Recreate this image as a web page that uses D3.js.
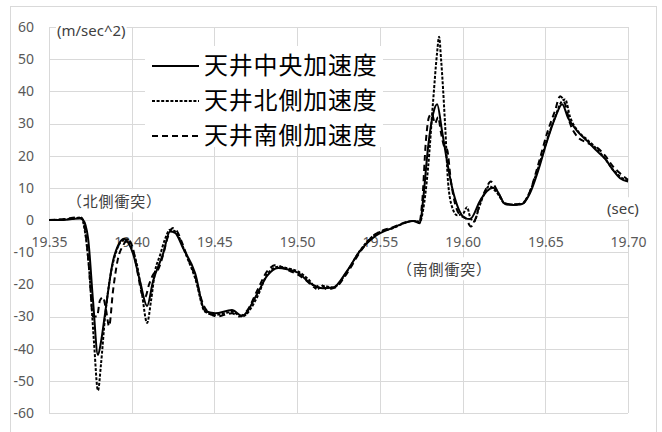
<!DOCTYPE html>
<html>
<head>
<meta charset="utf-8">
<script src="https://cdn.jsdelivr.net/npm/d3@7"></script>
<style>
  body { margin: 0; background: #fff; }
  svg { display: block; }
</style>
</head>
<body>
<div id="chart"></div>
<script>
// x ticks / y ticks
const xTicks = [19.35, 19.40, 19.45, 19.50, 19.55, 19.60, 19.65, 19.70];
const yTicks = [-60, -50, -40, -30, -20, -10, 0, 10, 20, 30, 40, 50, 60];

const legendLabels = ['天井中央加速度', '天井北側加速度', '天井南側加速度'];

// 天井中央加速度 (solid)
const centerT = [19.35, 19.3567, 19.3639, 19.3687, 19.3706, 19.3736, 19.3766, 19.3796, 19.3814, 19.3839,
  19.3887, 19.3917, 19.3953, 19.3978, 19.4008, 19.4050, 19.4093, 19.4129, 19.4189, 19.4232,
  19.4262, 19.4310, 19.4383, 19.4443, 19.4504, 19.4606, 19.4667, 19.4758, 19.4818, 19.4885,
  19.4939, 19.5005, 19.5078, 19.5157, 19.5217, 19.5302, 19.5380, 19.5459, 19.5580, 19.5701,
  19.5743, 19.5761, 19.5791, 19.5822, 19.5846, 19.5876, 19.5906, 19.5937, 19.5973, 19.6015,
  19.6045, 19.6106, 19.6148, 19.6184, 19.6209, 19.6257, 19.6305, 19.6360, 19.6408, 19.6456,
  19.6511, 19.6559, 19.6602, 19.6638, 19.6692, 19.6753, 19.6813, 19.6862, 19.6904, 19.6952, 19.7000];
const centerV = [0, 0, 0.3, 0.5, 0, -5.6, -25, -42, -38, -29,
  -12.7, -8, -5.8, -7, -10.5, -19, -26.7, -19, -10.6, -3.6,
  -4, -8.7, -16.5, -28.3, -29, -28, -29.8, -23, -17.4, -14.9,
  -15.3, -16.4, -19.6, -21.2, -21, -15.8, -9.6, -5.5, -2.4, -0.3,
  -1, 6, 22.4, 33, 36, 27.6, 18.3, 10, 3.8, 0.6,
  0.3, 6, 9, 10, 9, 5, 4.7, 5, 8.4, 15.2,
  24.6, 31.7, 36, 31.7, 27.7, 24.6, 21.4, 19, 15.9, 13, 12];

// 天井北側加速度 (dotted)
const northT = [19.35, 19.36, 19.365, 19.3695, 19.3712, 19.3742, 19.3772, 19.3796, 19.3814, 19.3839,
  19.3869, 19.3905, 19.3941, 19.3972, 19.4002, 19.4032, 19.4062, 19.4093, 19.4117, 19.4141,
  19.4171, 19.4201, 19.4232, 19.4262, 19.4292, 19.4322, 19.4383, 19.4443, 19.4504, 19.4564,
  19.4606, 19.4667, 19.4758, 19.4818, 19.4885, 19.4939, 19.5005, 19.5078, 19.5120, 19.5157,
  19.5217, 19.5302, 19.5380, 19.5459, 19.5580, 19.5701, 19.5743, 19.5761, 19.5791, 19.5822,
  19.5846, 19.5858, 19.5870, 19.5894, 19.5912, 19.5937, 19.5967, 19.6003, 19.6027, 19.6045,
  19.6070, 19.6100, 19.6130, 19.6160, 19.6190, 19.6215, 19.6257, 19.6305, 19.6360, 19.6408,
  19.6456, 19.6511, 19.6559, 19.6602, 19.6620, 19.6650, 19.6692, 19.6753, 19.6813, 19.6862,
  19.6904, 19.6952, 19.7000];
const northV = [0, 0.2, 0.5, 0.8, -2, -15, -38, -53, -45, -30,
  -18, -10, -6.5, -6, -9, -14, -23, -32, -25, -16,
  -11, -6, -3, -3.5, -6, -10, -18, -28.5, -29.5, -29,
  -28.5, -30, -24, -17, -14.5, -15, -16, -19, -21.5, -20.5,
  -21, -16, -9.5, -5, -2.5, -0.3, -0.5, 3, 16, 37,
  52, 57, 50, 30, 12, 4, 1.5, 2, 4, 1,
  -0.5, 4, 8, 10.5, 9.5, 8, 5, 4.8, 5, 9,
  16, 25, 32, 37, 37.5, 32, 28, 25, 22, 19,
  16, 13.5, 12];

// 天井南側加速度 (dashed)
const southT = [19.35, 19.36, 19.366, 19.370, 19.3718, 19.3742, 19.3766, 19.3790, 19.3808, 19.3826,
  19.3845, 19.3863, 19.3887, 19.3917, 19.3947, 19.3978, 19.4008, 19.4038, 19.4062, 19.4081,
  19.4105, 19.4129, 19.4159, 19.4189, 19.4220, 19.4250, 19.4274, 19.4304, 19.4340, 19.4383,
  19.4430, 19.4470, 19.4520, 19.4560, 19.4606, 19.4650, 19.4700, 19.4758, 19.4818, 19.4870,
  19.4939, 19.5005, 19.5060, 19.5110, 19.5140, 19.5180, 19.5230, 19.5302, 19.5380, 19.5459,
  19.5580, 19.5701, 19.5740, 19.5755, 19.5779, 19.5797, 19.5815, 19.5833, 19.5852, 19.5870,
  19.5888, 19.5906, 19.5930, 19.5955, 19.5985, 19.6020, 19.6050, 19.6075, 19.6110, 19.6140,
  19.6170, 19.6195, 19.6220, 19.6257, 19.6305, 19.6360, 19.6408, 19.6456, 19.6511, 19.6559,
  19.6590, 19.6620, 19.6650, 19.6692, 19.6753, 19.6813, 19.6862, 19.6904, 19.6952, 19.7000];
const southV = [0, 0.3, 0.8, 0.5, -3, -15, -30, -30, -25, -24,
  -28, -33, -22, -12, -8, -6, -9, -17, -23, -24,
  -20, -17, -15.5, -11, -5, -2.5, -3.5, -7, -12, -17.5,
  -26, -29, -30, -29.5, -29, -30, -28, -22, -16, -14,
  -15.5, -17, -19, -21, -20, -21.5, -21, -16.5, -10, -5,
  -2.2, -0.3, -0.5, 5, 25, 32, 33, 30, 32, 27,
  23, 22, 12, 5, 1.5, 0.5, -2, 0, 6, 9.5,
  12, 10.5, 8, 5.2, 4.8, 5.2, 9, 17, 27, 34,
  38.5, 36, 30, 26, 24, 22.5, 20, 17, 14.5, 12.5];

const W = 662, H = 432;
const axisFont = '"Noto Sans", "Open Sans", sans-serif';
const cjkFont = '"Noto Sans CJK JP", "Noto Sans", sans-serif';

const svg = d3.select('#chart').append('svg')
  .attr('width', W)
  .attr('height', H);

// chart area border
svg.append('rect')
  .attr('x', 10.5).attr('y', 6.5)
  .attr('width', 646).attr('height', 440)
  .attr('fill', '#fff')
  .attr('stroke', '#d9d9d9');

const x = d3.scaleLinear().domain([19.35, 19.70]).range([49, 628]);
const y = d3.scaleLinear().domain([-60, 60]).range([413, 27]);

// gridlines
const grid = svg.append('g').attr('stroke', '#d9d9d9').attr('stroke-width', 1);
grid.selectAll('line.h')
  .data(yTicks)
  .enter().append('line')
  .attr('class', 'h')
  .attr('x1', x(19.35)).attr('x2', x(19.70))
  .attr('y1', d => Math.round(y(d)) + 0.5)
  .attr('y2', d => Math.round(y(d)) + 0.5);
grid.selectAll('line.v')
  .data(xTicks)
  .enter().append('line')
  .attr('class', 'v')
  .attr('x1', d => Math.round(x(d)) + 0.5)
  .attr('x2', d => Math.round(x(d)) + 0.5)
  .attr('y1', y(60)).attr('y2', y(-60));

// y axis labels
const yAxis = svg.append('g')
  .attr('transform', `translate(${x(19.35)},0)`)
  .call(d3.axisLeft(y).tickValues(yTicks).tickSize(0).tickPadding(15).tickFormat(d => String(d)));
yAxis.select('.domain').remove();
yAxis.selectAll('text')
  .style('font-family', axisFont)
  .style('font-size', '14px')
  .attr('fill', '#595959');

// x axis labels, crossing at 0
const xAxis = svg.append('g')
  .attr('transform', `translate(0,${y(0)})`)
  .call(d3.axisBottom(x).tickValues(xTicks).tickSize(0).tickPadding(17).tickFormat(d3.format('.2f')));
xAxis.select('.domain').remove();
xAxis.selectAll('text')
  .style('font-family', axisFont)
  .style('font-size', '14px')
  .attr('fill', '#595959');

// series
const series = [
  { t: centerT, v: centerV, dash: null },
  { t: northT, v: northV, dash: '3,1.6' },
  { t: southT, v: southV, dash: '6,4' }
];

const line = d3.line()
  .x(d => x(d[0]))
  .y(d => y(d[1]))
  .curve(d3.curveMonotoneX);

series.forEach(s => {
  svg.append('path')
    .datum(s.t.map((t, i) => [t, s.v[i]]))
    .attr('d', line)
    .attr('fill', 'none')
    .attr('stroke', '#000')
    .attr('stroke-width', 2)
    .attr('stroke-dasharray', s.dash);
});

// text box helper (white fill like the Excel text boxes)
function textBox(tx, ty, str, font, size, color, spacing) {
  const g = svg.append('g');
  const bg = g.append('rect').attr('fill', '#fff');
  const t = g.append('text')
    .attr('x', tx).attr('y', ty)
    .attr('dy', '0.35em')
    .style('font-family', font)
    .style('font-size', size + 'px')
    .style('letter-spacing', (spacing || 0) + 'px')
    .attr('fill', color)
    .text(str);
  const b = t.node().getBBox();
  bg.attr('x', b.x - 1).attr('y', b.y - 1).attr('width', b.width + 2).attr('height', b.height + 2);
}

textBox(57, 31, '(m/sec^2)', axisFont, 15, '#404040');
textBox(607, 209, '(sec)', axisFont, 15, '#404040');
textBox(67, 202, '（北側衝突）', cjkFont, 15, '#404040', 0.8);
textBox(397, 270, '（南側衝突）', cjkFont, 15, '#404040', 0.8);

// legend
const legend = svg.append('g');
legend.append('rect')
  .attr('x', 145).attr('y', 46)
  .attr('width', 238).attr('height', 101)
  .attr('fill', '#fff');
const rows = legend.selectAll('g.row')
  .data(legendLabels)
  .enter().append('g')
  .attr('class', 'row')
  .attr('transform', (d, i) => `translate(0,${66 + i * 35})`);
rows.append('line')
  .attr('x1', 152).attr('x2', 199)
  .attr('y1', 0).attr('y2', 0)
  .attr('stroke', '#000')
  .attr('stroke-width', 2)
  .attr('stroke-dasharray', (d, i) => series[i].dash);
rows.append('text')
  .attr('x', 204).attr('y', 0)
  .attr('dy', '0.35em')
  .style('font-family', cjkFont)
  .style('font-size', '24px')
  .style('letter-spacing', '0.8px')
  .attr('fill', '#000')
  .text(d => d);
</script>
</body>
</html>
